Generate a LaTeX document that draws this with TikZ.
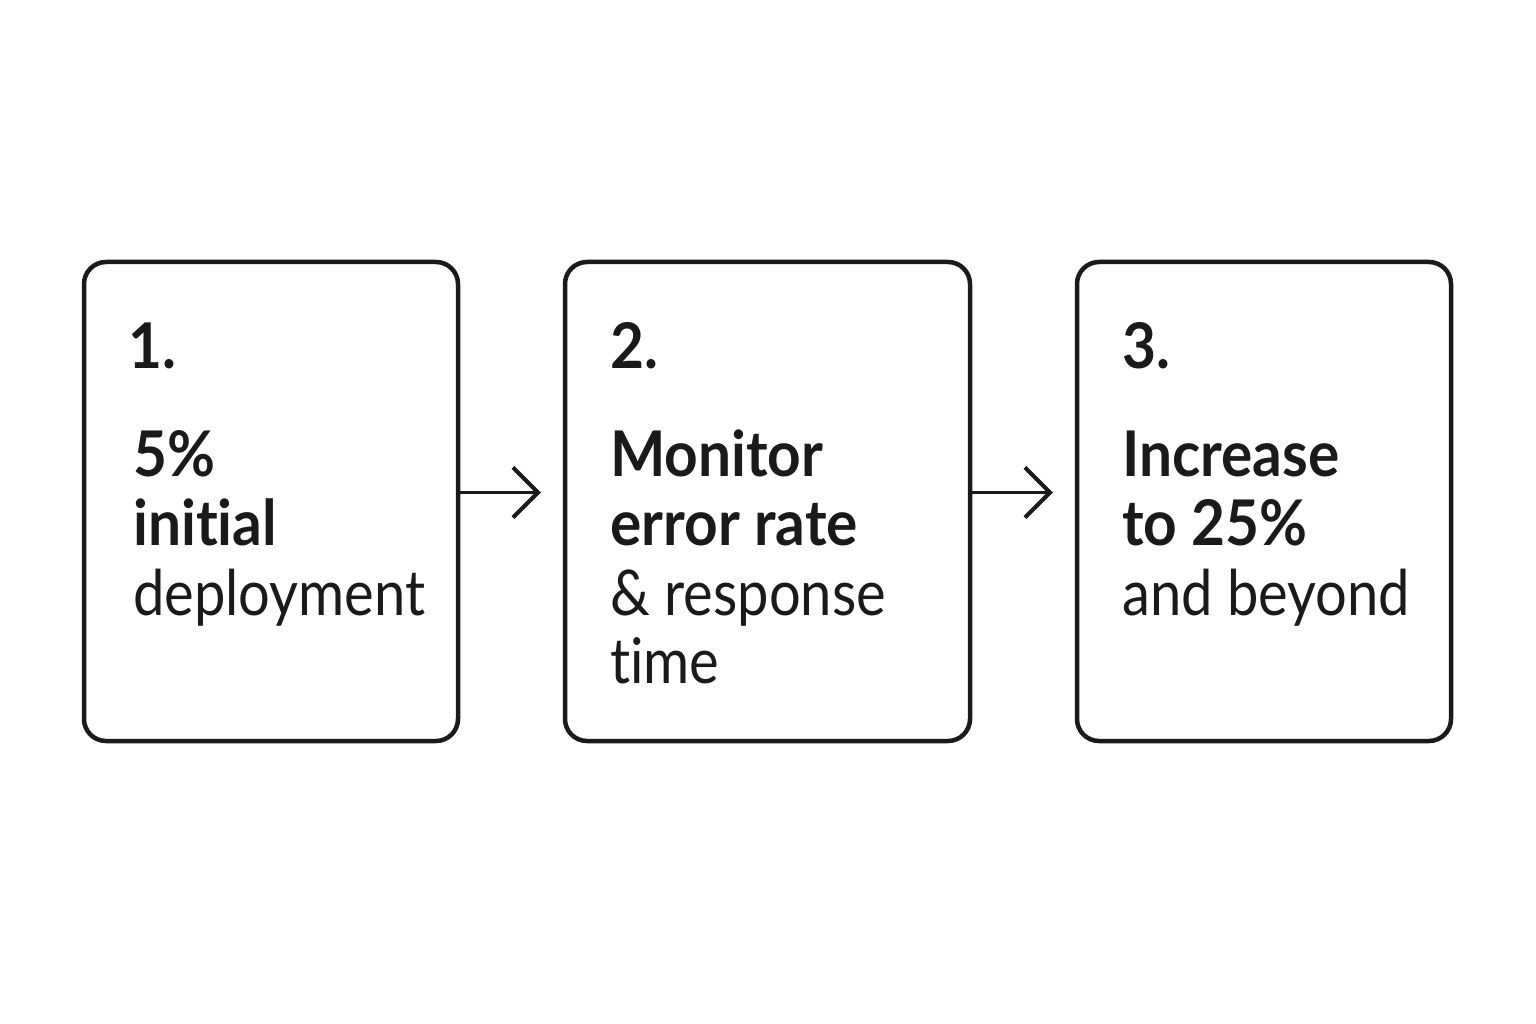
\documentclass[tikz,border=0pt]{standalone}
\usepackage{fontspec}
\setmainfont{Lato}[Ligatures=NoCommon,UprightFeatures={FakeStretch=0.89},BoldFeatures={FakeStretch=0.93}]
\usetikzlibrary{arrows.meta,calc}
\definecolor{ink}{HTML}{1A1A1A}
\begin{document}
\begin{tikzpicture}[x=1pt,y=-1pt,
  card/.style={draw=ink,line width=4.5pt,rounded corners=22pt,inner sep=0pt},
  num/.style={anchor=base west,inner sep=0pt,text=ink,font=\fontsize{63}{64}\selectfont\bfseries},
  bold/.style={anchor=base west,inner sep=0pt,text=ink,font=\fontsize{63}{64}\selectfont\bfseries},
  reg/.style={anchor=base west,inner sep=0pt,text=ink,font=\fontsize{63}{64}\selectfont},
  link/.style={draw=ink,line width=3.5pt,-{Straight Barb[length=25pt,width=50pt,line width=4pt]}}]
\useasboundingbox[fill=white] (0,0) rectangle (1536,1024);
\node[card,minimum width=374pt,minimum height=479pt] (b1) at (271,501.5) {};
\node[card,minimum width=405pt,minimum height=479pt] (b2) at (767.5,501.5) {};
\node[card,minimum width=374pt,minimum height=479pt] (b3) at (1264,501.5) {};
% box 1
\node[num] (n1) at (128,368) {1.};
\node[bold] (t11) at (133,476) {5\%};
\node[bold] (t12) at (133,545) {initial};
\node[reg] (t13) at (133,615) {deployment};
% box 2
\node[num] (n2) at (610,368) {2.};
\node[bold] (t21) at (610,476) {Monitor};
\node[bold] (t22) at (610,545) {error rate};
\node[reg] (t23) at (610,615) {\& response};
\node[reg] (t24) at (610,683) {time};
% box 3
\node[num] (n3) at (1122,368) {3.};
\node[bold] (t31) at (1122,476) {Increase};
\node[bold] (t32) at (1122,545) {to 25\%};
\node[reg] (t33) at (1122,615) {and beyond};
% arrows
\draw[link,shorten >=22pt] ($(b1.east)+(0,-9)$) -- ($(b2.west)+(0,-9)$);
\draw[link,shorten >=22pt] ($(b2.east)+(0,-9)$) -- ($(b3.west)+(0,-9)$);
\end{tikzpicture}
\end{document}
